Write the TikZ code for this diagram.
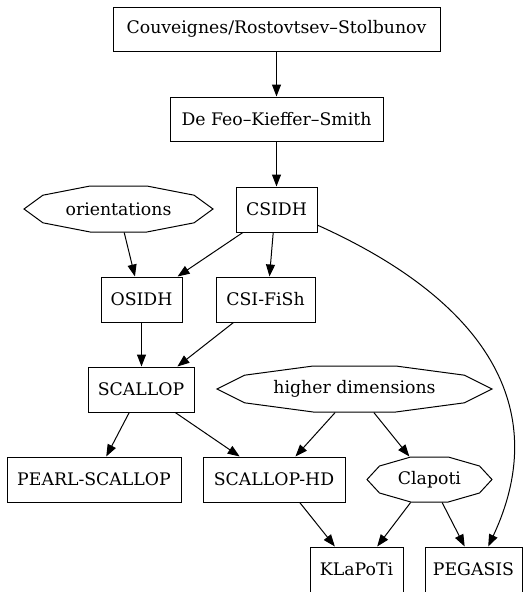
\documentclass[tikz,border=0pt]{standalone}
\usepackage{fontspec}
\setmainfont{DejaVu Serif}
\usetikzlibrary{arrows.meta,calc}
\tikzset{
  box/.style={draw, line width=1pt, minimum height=45pt, inner sep=0pt,
    font=\fontsize{17.3}{20}\selectfont},
  oct/.style={box, draw=none},
  arr/.style={line width=1pt, -{Triangle[length=12pt,width=9pt]}},
  octline/.style={line width=1pt}
}
\newcommand\octo[3]{%
  \draw[octline, shift={(#1.center)}]
    (-#2,0) -- (-0.8*#2,-0.6*#3) -- (-0.3*#2,-#3) -- (0.3*#2,-#3)
    -- (0.8*#2,-0.6*#3) -- (#2,0) -- (0.8*#2,0.6*#3) -- (0.3*#2,#3)
    -- (-0.3*#2,#3) -- (-0.8*#2,0.6*#3) -- cycle;}
\begin{document}
\begin{tikzpicture}[x=1pt,y=-1pt]
\useasboundingbox (0,0) rectangle (524,592);
\node[box, minimum width=327pt, minimum height=44pt] (couv) at (276.5,29) {Couveignes/Rostovtsev–Stolbunov};
\node[box, minimum width=213pt, minimum height=44pt] (dfks) at (276.5,119) {De Feo–Kieffer–Smith};
\node[box, minimum width=81pt] (csidh) at (276.5,209.5) {CSIDH};
\node[oct, minimum width=189pt, minimum height=46pt] (orient) at (118.5,209) {orientations};
\octo{orient}{94.5}{23}
\node[box, minimum width=81pt] (osidh) at (141.5,299.5) {OSIDH};
\node[box, minimum width=99pt] (csifish) at (265.5,299.5) {CSI-FiSh};
\node[box, minimum width=106pt] (scallop) at (141,389.5) {SCALLOP};
\node[oct, minimum width=275pt, minimum height=46pt] (higher) at (354.5,389) {higher dimensions};
\octo{higher}{137.5}{23}
\node[box, minimum width=174pt] (pearl) at (94,479.5) {PEARL-SCALLOP};
\node[box, minimum width=142pt] (shd) at (274,479.5) {SCALLOP-HD};
\node[oct, minimum width=125pt] (clapoti) at (429.5,479.5) {Clapoti};
\octo{clapoti}{62.5}{22.5}
\node[box, minimum width=93pt] (klapoti) at (356.5,569.5) {KLaPoTi};
\node[box, minimum width=97pt] (pegasis) at (473.5,569.5) {PEGASIS};

\draw[arr] (couv.south) -- (dfks.north);
\draw[arr] (dfks.south) -- (csidh.north);
\draw[arr] ($(csidh.south west)!0.09!(csidh.south east)$) -- ($(osidh.north west)!0.94!(osidh.north east)$);
\draw[arr] ($(csidh.south west)!0.46!(csidh.south east)$) -- ($(csifish.north west)!0.54!(csifish.north east)$);
\draw[arr] ($(orient.south west)!0.53!(orient.south east)$) -- ($(osidh.north west)!0.42!(osidh.north east)$);
\draw[arr] ($(csidh.north east)!0.84!(csidh.south east)$) .. controls (495,305) and (550,415) .. ($(pegasis.north west)!0.65!(pegasis.north east)$);
\draw[arr] (osidh.south) -- (osidh.south |- scallop.north);
\draw[arr] ($(csifish.south west)!0.18!(csifish.south east)$) -- ($(scallop.north west)!0.84!(scallop.north east)$);
\draw[arr] ($(scallop.south west)!0.39!(scallop.south east)$) -- ($(pearl.north west)!0.57!(pearl.north east)$);
\draw[arr] ($(scallop.south west)!0.82!(scallop.south east)$) -- ($(shd.north west)!0.26!(shd.north east)$);
\draw[arr] ($(higher.south west)!0.43!(higher.south east)$) -- ($(shd.north west)!0.65!(shd.north east)$);
\draw[arr] ($(higher.south west)!0.57!(higher.south east)$) -- ($(clapoti.north west)!0.34!(clapoti.north east)$);
\draw[arr] ($(shd.south west)!0.68!(shd.south east)$) -- ($(klapoti.north west)!0.27!(klapoti.north east)$);
\draw[arr] ($(clapoti.south west)!0.35!(clapoti.south east)$) -- ($(klapoti.north west)!0.72!(klapoti.north east)$);
\draw[arr] ($(clapoti.south west)!0.6!(clapoti.south east)$) -- ($(pegasis.north west)!0.41!(pegasis.north east)$);
\end{tikzpicture}
\end{document}
